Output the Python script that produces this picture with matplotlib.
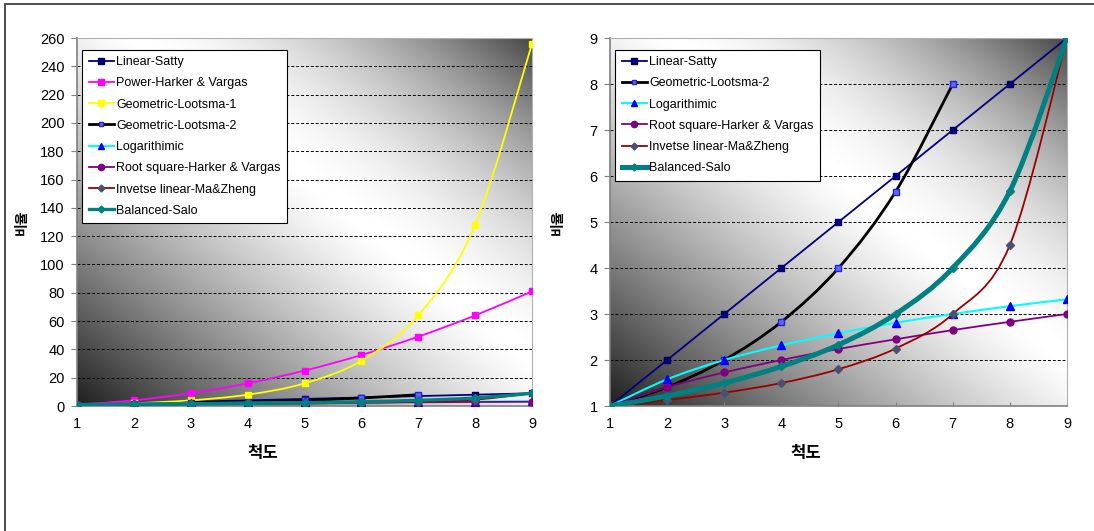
import numpy as np
import matplotlib
matplotlib.use("Agg")
import matplotlib.pyplot as plt
from matplotlib.path import Path
from matplotlib.patches import PathPatch, Rectangle
from matplotlib.lines import Line2D

plt.rcParams['font.family'] = ['Liberation Sans', 'Noto Sans CJK KR', 'DejaVu Sans']

# x axis: scale 1..9
scale = [1, 2, 3, 4, 5, 6, 7, 8, 9]

# ratio values
linear_satty = [1, 2, 3, 4, 5, 6, 7, 8, 9]
power_hv = [1, 4, 9, 16, 25, 36, 49, 64, 81]
geo_lootsma_1 = [1, 2, 4, 8, 16, 32, 64, 128, 256]
geo_lootsma_2 = [1, 1.41, 2, 2.83, 4, 5.66, 8]
logarithmic = [1, 1.58, 2, 2.32, 2.58, 2.81, 3, 3.17, 3.32]
root_square_hv = [1, 1.41, 1.73, 2, 2.24, 2.45, 2.65, 2.83, 3]
inverse_linear = [1, 1.13, 1.29, 1.5, 1.8, 2.25, 3, 4.5, 9]
balanced_salo = [1, 1.22, 1.5, 1.86, 2.33, 3, 4, 5.67, 9]

left_ticks = list(range(0, 261, 20))
right_ticks = list(range(1, 10))

# name -> (values, line color, line width, marker, marker face, marker edge, marker size)
styles = {
    "Linear-Satty": (linear_satty, "#000080", 1.3, "s", "#000080", "#000060", 5),
    "Power-Harker & Vargas": (power_hv, "#FF00FF", 1.3, "s", "#FF00FF", "#FF00FF", 5),
    "Geometric-Lootsma-1": (geo_lootsma_1, "#FFFF00", 1.3, "s", "#FFFF00", "#FFFF00", 5),
    "Geometric-Lootsma-2": (geo_lootsma_2, "#000000", 2.0, "s", "#6666FF", "#2222DD", 4),
    "Logarithimic": (logarithmic, "#00FFFF", 1.5, "^", "#0000FF", "#0000FF", 5.5),
    "Root square-Harker & Vargas": (root_square_hv, "#800080", 1.3, "o", "#800080", "#800080", 5),
    "Invetse linear-Ma&Zheng": (inverse_linear, "#990000", 1.3, "D", "#4A5070", "#4A5070", 4),
    "Balanced-Salo": (balanced_salo, "#008080", 3.0, "D", "#008080", "#008080", 4),
}

left_series = ["Linear-Satty", "Power-Harker & Vargas", "Geometric-Lootsma-1",
               "Geometric-Lootsma-2", "Logarithimic", "Root square-Harker & Vargas",
               "Invetse linear-Ma&Zheng", "Balanced-Salo"]
right_series = ["Linear-Satty", "Geometric-Lootsma-2", "Logarithimic",
                "Root square-Harker & Vargas", "Invetse linear-Ma&Zheng", "Balanced-Salo"]


# excel-like smoothed line: bezier through the points
def smooth_path(xs, ys):
    pts = np.column_stack([xs, ys]).astype(float)
    n = len(pts)
    verts = [pts[0]]
    codes = [Path.MOVETO]
    for i in range(n - 1):
        p0 = pts[max(i - 1, 0)]
        p1, p2 = pts[i], pts[i + 1]
        p3 = pts[min(i + 2, n - 1)]
        verts += [p1 + (p2 - p0) / 6, p2 - (p3 - p1) / 6, p2]
        codes += [Path.CURVE4] * 3
    return Path(verts, codes)


# diagonal gradient: dark lower-left, white middle, grey upper-right
def background(ax):
    u, v = np.meshgrid(np.linspace(0, 1, 400), np.linspace(0, 1, 400))
    d = (u + v) / 2 - 0.56
    shade = np.where(d < 0, 1 - 0.88 * (np.abs(d) / 0.56) ** 1.25,
                     1 - 0.72 * (np.clip(d, 0, None) / 0.44) ** 1.7)
    ax.imshow(shade, extent=(0, 1, 0, 1), origin="lower", transform=ax.transAxes,
              cmap="gray", vmin=0, vmax=1, aspect="auto", zorder=-1, interpolation="bilinear")


def draw_panel(ax, names, ticks, ylim, sc):
    background(ax)
    handles = []
    z = 2
    for name in names:
        vals, lc, lw, m, mfc, mec, ms = styles[name]
        xs = scale[:len(vals)]
        lwp = lw * sc if name == "Balanced-Salo" else lw
        ax.add_patch(PathPatch(smooth_path(xs, vals), fill=False, edgecolor=lc, lw=lwp,
                               zorder=z, capstyle="round", joinstyle="round"))
        ax.plot(xs, vals, linestyle="none", marker=m, mfc=mfc, mec=mec, ms=ms, zorder=z + 0.5)
        handles.append(Line2D([0], [0], color=lc, lw=lwp, marker=m, mfc=mfc, mec=mec,
                              ms=ms - 0.5, label=name))
        z += 1
    ax.set_xlim(1, 9)
    ax.set_ylim(*ylim)
    ax.set_xticks(scale)
    ax.set_yticks(ticks)
    ax.yaxis.grid(True, color="black", linestyle=(0, (3, 2)), lw=0.7)
    ax.set_axisbelow(True)
    ax.tick_params(axis="y", direction="out", length=4, color="#808080", labelsize=10.5, pad=5)
    ax.tick_params(axis="x", direction="in", length=3, color="#808080", labelsize=10.5, pad=8)
    for s in ["left", "bottom"]:
        ax.spines[s].set_color("#808080")
        ax.spines[s].set_linewidth(1.2)
    for s in ["top", "right"]:
        ax.spines[s].set_color("#b0b0b0")
        ax.spines[s].set_linewidth(0.8)
    leg = ax.legend(handles=handles, loc="upper left", bbox_to_anchor=(0.012, 0.968),
                    borderaxespad=0, fontsize=9, handlelength=2.0, handletextpad=0.2,
                    labelspacing=0.74, borderpad=0.5, fancybox=False, framealpha=1,
                    edgecolor="black")
    leg.get_frame().set_linewidth(0.8)
    leg.set_zorder(20)


fig = plt.figure(figsize=(10.94, 5.31), dpi=100)
fig.patches.append(Rectangle((0.0046, -0.1), 1.2, 1.0925, transform=fig.transFigure,
                             fill=False, edgecolor="#404040", lw=1.3))

ax1 = fig.add_axes([0.0704, 0.2354, 0.4159, 0.693])
ax2 = fig.add_axes([0.5576, 0.2354, 0.4177, 0.693])

draw_panel(ax1, left_series, left_ticks, (0, 260), 0.8)
draw_panel(ax2, right_series, right_ticks, (1, 9), 1.2)

for ax, xc in [(ax1, 0.24), (ax2, 0.737)]:
    fig.text(xc, 0.146, "척도", ha="center", va="center", fontsize=12, fontweight="bold",
             family=["Noto Sans CJK KR", "DejaVu Sans"])
fig.text(0.020, 0.582, "비율", ha="center", va="center", rotation=90, fontsize=10,
         fontweight="bold", family=["Noto Sans CJK KR", "DejaVu Sans"])
fig.text(0.510, 0.582, "비율", ha="center", va="center", rotation=90, fontsize=10,
         fontweight="bold", family=["Noto Sans CJK KR", "DejaVu Sans"])

fig.savefig("out.png", dpi=100)
